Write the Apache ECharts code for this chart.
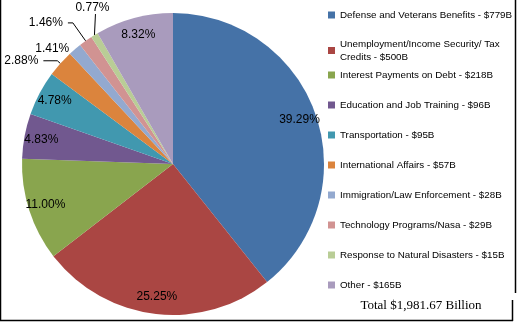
<!DOCTYPE html>
<html>
<head>
<meta charset="utf-8">
<script src="https://cdn.jsdelivr.net/npm/echarts@6/dist/echarts.min.js"></script>
<style>
html,body{margin:0;padding:0;background:#fff;}
#chart{width:517px;height:322px;}
</style>
</head>
<body>
<div id="chart"></div>
<script>
// ---- data ----
var categories = [
  'Defense and Veterans Benefits',
  'Unemployment/Income Security/ Tax Credits',
  'Interest Payments on Debt',
  'Education and Job Training',
  'Transportation',
  'International Affairs',
  'Immigration/Law Enforcement',
  'Technology Programs/Nasa',
  'Response to Natural Disasters',
  'Other'
];
var amountsB = [779, 500, 218, 96, 95, 57, 28, 29, 15, 165];
var percents = [39.29, 25.25, 11.00, 4.83, 4.78, 2.88, 1.41, 1.46, 0.77, 8.32];
var colors = ['#4572A7','#AA4643','#89A54E','#71588F','#4198AF','#DB843D','#93A9CF','#D19392','#B9CD96','#A99BBD'];
var totalText = 'Total $1,981.67 Billion';

var insideIdx = [0,1,2,3,4,9];
var outsideLine = {5:{length:4,length2:14,show:true},6:{length:1,length2:0,show:false},7:{length:22,length2:5,show:true},8:{length:18,length2:0,show:true}};

var names = categories.map(function(c,i){ return c + ' - $' + amountsB[i] + 'B'; });

function fmt(p){ return p.value.toFixed(2) + '%'; }

var mainData = percents.map(function(v,i){
  var d = {value:v, name:names[i], itemStyle:{color:colors[i]}};
  if (outsideLine[i]) {
    d.label = {show:true, position:'outside'};
    d.labelLine = {show: outsideLine[i].show, length: outsideLine[i].length, length2: outsideLine[i].length2};
  }
  return d;
});
var overlayData = percents.map(function(v,i){
  return {value:v, name:names[i], label:{show: insideIdx.indexOf(i) >= 0}};
});

var legendText = {fontFamily:'Liberation Sans', fontSize:9.8, color:'#000', lineHeight:13, width:178, overflow:'break'};

var chart = echarts.init(document.getElementById('chart'), null, {renderer:'canvas'});
chart.setOption({
  animation:false,
  backgroundColor:'#fff',
  color: colors,
  title:{
    text: totalText, left: 416, top: 294, textAlign:'center',
    textStyle:{fontFamily:'Liberation Serif', fontSize:13, fontWeight:'normal', color:'#000'}
  },
  legend:[
    {orient:'vertical', left:328, top:8.5, padding:0, itemWidth:7, itemHeight:7, itemGap:16, icon:'rect',
     selectedMode:false, data:names.slice(0,2), textStyle:legendText},
    {orient:'vertical', left:328, top:68.5, padding:0, itemWidth:7, itemHeight:7, itemGap:17, icon:'rect',
     selectedMode:false, data:names.slice(2), textStyle:legendText}
  ],
  series:[
    {
      type:'pie', center:[173,164], radius:[0,151], startAngle:90, clockwise:true,
      data: mainData, silent:true, emphasis:{disabled:true},
      label:{show:false, formatter:fmt, fontFamily:'Liberation Sans', fontSize:12, color:'#000'},
      labelLine:{show:false, lineStyle:{color:'#000', width:1}},
      avoidLabelOverlap:false,
      labelLayout:function(params){
        if (params.dataIndex === 8 && params.labelLinePoints) {
          var a = params.labelLinePoints[0];
          return {x:a[0]-2, y:a[1]-21, align:'center', verticalAlign:'bottom',
                  labelLinePoints:[[a[0],a[1]],[a[0]+1,a[1]-21]]};
        }
        return {};
      }
    },
    {
      type:'pie', center:[173,164], radius:[111,151], startAngle:90, clockwise:true,
      data: overlayData, silent:true, emphasis:{disabled:true},
      itemStyle:{color:'rgba(0,0,0,0)'},
      label:{show:false, position:'inside', formatter:fmt, fontFamily:'Liberation Sans', fontSize:12, color:'#000'},
      labelLine:{show:false}
    }
  ],
  graphic:[
    {type:'line', shape:{x1:0.5,y1:0,x2:0.5,y2:321}, style:{stroke:'#000',lineWidth:1.5}},
    {type:'line', shape:{x1:0,y1:320.5,x2:513,y2:320.5}, style:{stroke:'#000',lineWidth:1.5}},
    {type:'line', shape:{x1:515.5,y1:0,x2:515.5,y2:293}, style:{stroke:'#000',lineWidth:1.5}},
    {type:'line', shape:{x1:512.5,y1:300,x2:512.5,y2:321}, style:{stroke:'#000',lineWidth:1.5}}
  ]
});
</script>
</body>
</html>
